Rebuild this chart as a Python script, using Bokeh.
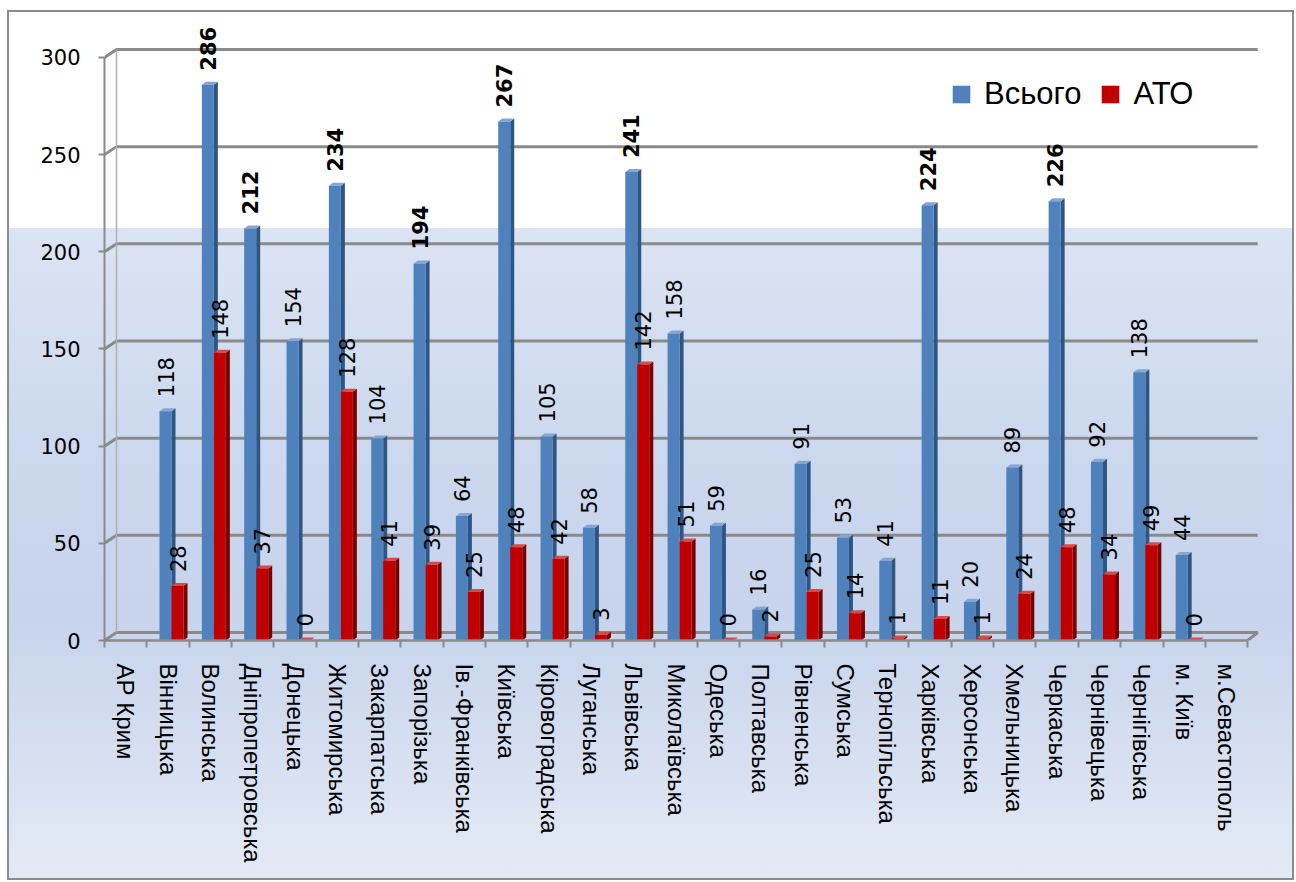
import numpy as np
from bokeh.plotting import figure
from bokeh.models import Range1d, FixedTicker, Legend, LegendItem, ColumnDataSource
from bokeh.core.properties import value
from bokeh.embed import file_html
from bokeh.resources import INLINE

regions = ["АР Крим", "Вінницька", "Волинська", "Дніпропетровська", "Донецька",
           "Житомирська", "Закарпатська", "Запорізька", "Ів.-Франківська", "Київська",
           "Кіровоградська", "Луганська", "Львівська", "Миколаївська", "Одеська",
           "Полтавська", "Рівненська", "Сумська", "Тернопільська", "Харківська",
           "Херсонська", "Хмельницька", "Черкаська", "Чернівецька", "Чернігівська",
           "м. Київ", "м.Севастополь"]
total = [None, 118, 286, 212, 154, 234, 104, 194, 64, 267, 105, 58, 241, 158, 59,
         16, 91, 53, 41, 224, 20, 89, 226, 92, 138, 44, None]
ato = [None, 28, 148, 37, 0, 128, 41, 39, 25, 48, 42, 3, 142, 51, 0,
       2, 25, 14, 1, 11, 1, 24, 48, 34, 49, 0, None]
series_names = ["Всього", "АТО"]
y_ticks = [0, 50, 100, 150, 200, 250, 300]

# ---- geometry / styling ----
W, H = 1287, 870
BL, BR, BT, BB = 97, 32, 4, 240
n = len(regions)
X0, X1 = -0.5, n - 0.5 + 0.35
Y0, Y1 = 0, 322.1
ux = (X1 - X0) / (W - BL - BR)   # data units per px (x)
uy = (Y1 - Y0) / (H - BT - BB)   # data units per px (y)
DX, DY = 4 * ux, 3 * uy          # 3D depth of bars

p = figure(width=W, height=H, output_backend="svg", toolbar_location=None,
           x_range=Range1d(X0, X1), y_range=Range1d(Y0, Y1),
           min_border_left=BL, min_border_right=BR, min_border_top=BT, min_border_bottom=BB)
p.background_fill_color = None
p.border_fill_color = None
p.outline_line_color = None
p.xgrid.visible = False
p.ygrid.visible = False
p.styles = {
    "margin-left": "7px",
    "margin-top": "10px",
    "background": "linear-gradient(180deg, #ffffff 0px, #ffffff 218px, #dbe4f3 218px, "
                  "#cad7ed 460px, #c7d4ec 610px, #e4eaf5 870px)",
    "outline": "2px solid #8c8c8c",
    "outline-offset": "-2px",
}

GRID = "#8a8a8a"
# back-wall gridlines with 3D slant
gx, gy = [], []
bx = n - 0.5 + 10 * ux
for v in y_ticks:
    if v == 0:
        gx.append([X0, X0 + 12 * ux, bx, n - 0.5])
        gy.append([v, v + 8 * uy, v + 8 * uy, v])
    else:
        gx.append([X0, X0 + 12 * ux, bx])
        gy.append([v, v + 8 * uy, v + 8 * uy])
p.multi_line(gx, gy, line_color=GRID, line_width=3)
# left wall back edge
p.line([X0 + 12 * ux, X0 + 12 * ux], [8 * uy, 300 + 8 * uy], line_color="#b0b0b0", line_width=1.5)

def faces(vals, lo_px, hi_px):
    xs_side, ys_side, xs_top, ys_top, L, R, T, C = [], [], [], [], [], [], [], []
    for i, v in enumerate(vals):
        if v is None:
            continue
        x0, x1 = i + lo_px * ux, i + hi_px * ux
        xs_side.append([x1, x1 + DX, x1 + DX, x1]); ys_side.append([0, DY, v + DY, v])
        xs_top.append([x0, x1, x1 + DX, x0 + DX]); ys_top.append([v, v, v + DY, v + DY])
        L.append(x0); R.append(x1); T.append(v); C.append((x0 + x1) / 2)
    return xs_side, ys_side, xs_top, ys_top, L, R, T, C

series = [
    (total, -8.5, 3.5, "#4f81bd", "#2f5583", "#86a5d3"),
    (ato, 3.5, 15.5, "#c00000", "#7a0000", "#d84a4a"),
]
front_renderers = []
label_specs = []
for vals, lo, hi, cf, cs, ct in series:
    xs_s, ys_s, xs_t, ys_t, L, R, T, C = faces(vals, lo, hi)
    p.patches(xs_s, ys_s, fill_color=cs, line_color=None)
    p.patches(xs_t, ys_t, fill_color=ct, line_color=None)
    r = p.quad(left=L, right=R, bottom=0, top=T, fill_color=cf, line_color=None)
    front_renderers.append(r)
    label_specs.append((C, T))

for C, T in label_specs:
    src = ColumnDataSource(dict(x=C, y=T, t=[str(v) for v in T],
                                s=["bold" if v > 185 else "normal" for v in T]))
    p.text(x="x", y="y", text="t", source=src, angle=np.pi / 2, text_align="left",
           text_baseline="middle", y_offset=-14, text_font=value("DejaVu Sans"),
           text_font_size="21px", text_font_style="s", text_color="#000000")

# y axis
ya = p.yaxis[0]
ya.ticker = FixedTicker(ticks=y_ticks)
ya.bounds = (0, 300)
ya.axis_line_color = GRID
ya.axis_line_width = 2
ya.major_tick_line_color = GRID
ya.major_tick_line_width = 2
ya.major_tick_out = 6
ya.major_tick_in = 0
ya.minor_tick_line_color = None
ya.major_label_standoff = 18
ya.major_label_text_font = "DejaVu Sans"
ya.major_label_text_font_size = "21px"
ya.major_label_text_color = "#000000"

# x axis (categories)
xa = p.xaxis[0]
xa.ticker = FixedTicker(ticks=list(range(n)), minor_ticks=[i - 0.5 for i in range(n + 1)])
xa.major_label_overrides = {i: name for i, name in enumerate(regions)}
xa.bounds = (X0, n - 0.5)
xa.axis_line_color = GRID
xa.axis_line_width = 2.5
xa.major_tick_line_color = None
xa.major_tick_out = 0
xa.major_tick_in = 0
xa.minor_tick_line_color = GRID
xa.minor_tick_line_width = 2
xa.minor_tick_out = 7
xa.minor_tick_in = 0
xa.major_label_orientation = "vertical"
xa.major_label_standoff = 16
xa.major_label_text_font = "Liberation Sans"
xa.major_label_text_font_size = "24px"
xa.major_label_text_color = "#000000"

legend = Legend(items=[LegendItem(label=series_names[0], renderers=[front_renderers[0]]),
                       LegendItem(label=series_names[1], renderers=[front_renderers[1]])],
                location=(846, 528), orientation="horizontal",
                padding=0, margin=0, spacing=18, label_standoff=12,
                glyph_width=22, glyph_height=22, label_height=22,
                label_text_font="Liberation Sans", label_text_font_size="31px",
                label_text_color="#000000",
                background_fill_alpha=0, border_line_color=None)
p.add_layout(legend)

open("out.html", "w").write(file_html(p, INLINE))
